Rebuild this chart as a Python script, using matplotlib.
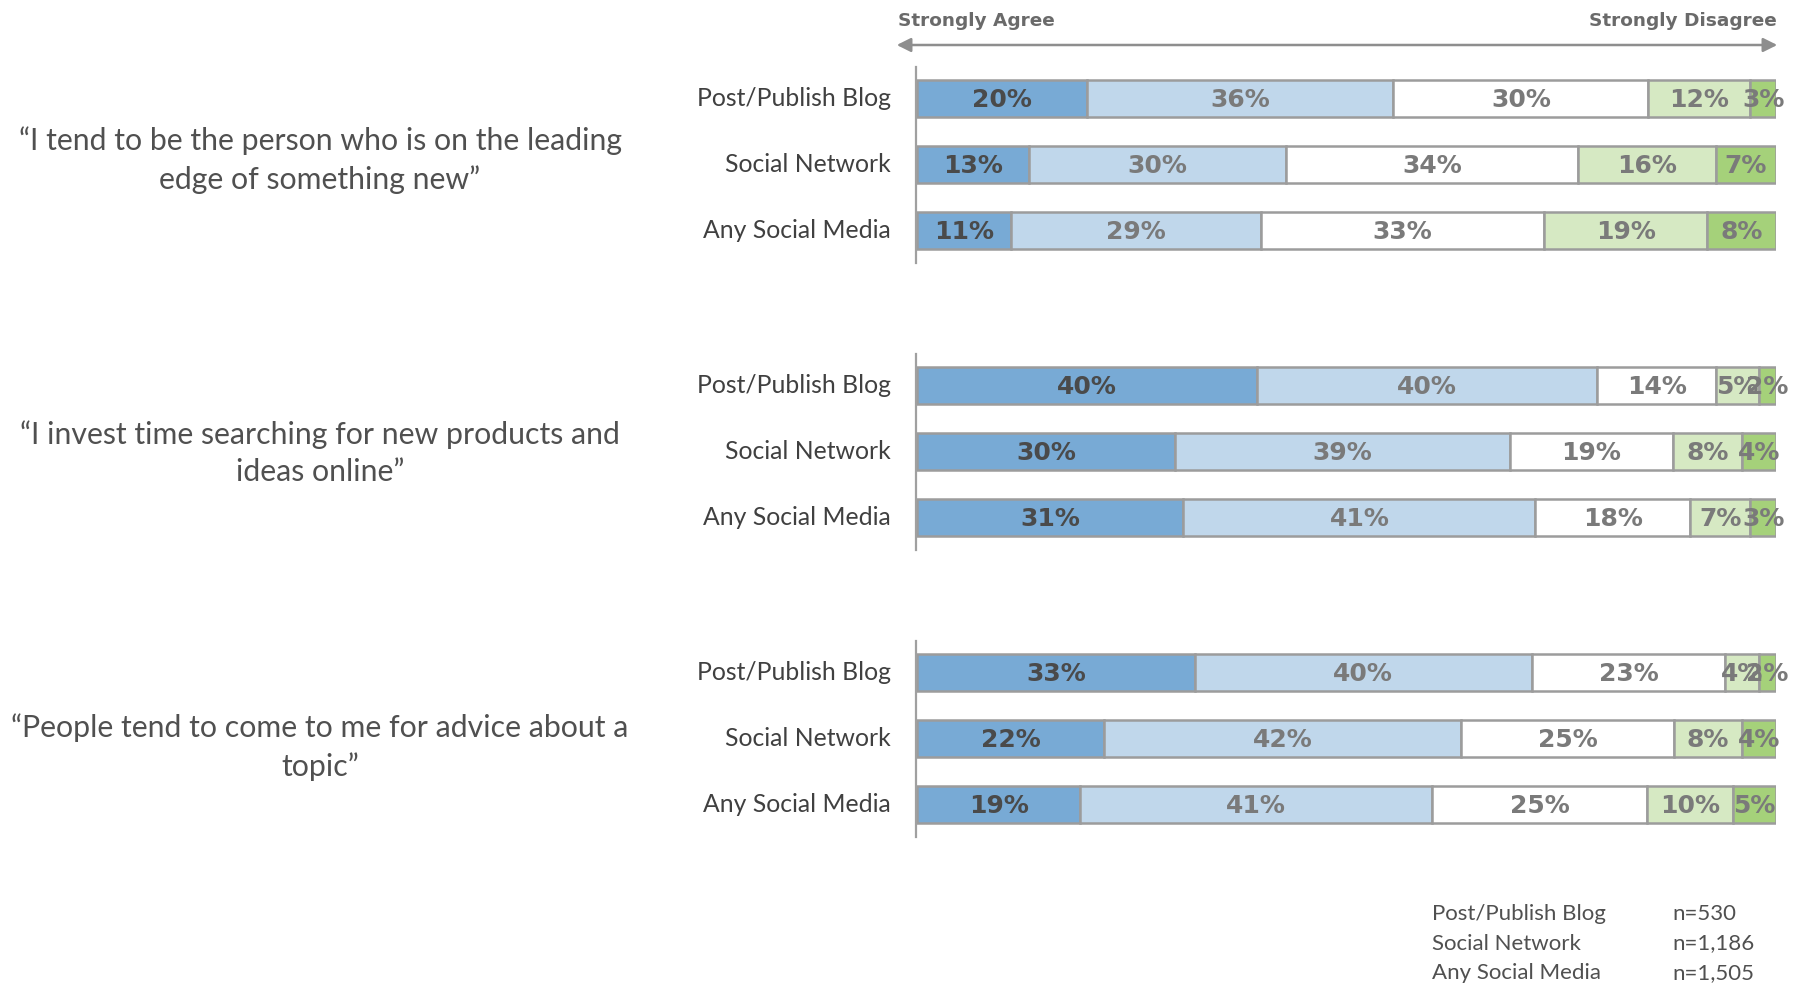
import numpy as np
import matplotlib
matplotlib.use('Agg')
import matplotlib.pyplot as plt

# survey answers per statement, Strongly Agree -> Strongly Disagree
statements = [
    '\u201cI tend to be the person who is on the leading\nedge of something new\u201d',
    '\u201cI invest time searching for new products and\nideas online\u201d',
    '\u201cPeople tend to come to me for advice about a\ntopic\u201d',
]
groups = ['Post/Publish Blog', 'Social Network', 'Any Social Media']
sample_sizes = ['n=530', 'n=1,186', 'n=1,505']

leading_edge = [[20, 36, 30, 12, 3], [13, 30, 34, 16, 7], [11, 29, 33, 19, 8]]
search_online = [[40, 40, 14, 5, 2], [30, 39, 19, 8, 4], [31, 41, 18, 7, 3]]
advice = [[33, 40, 23, 4, 2], [22, 42, 25, 8, 4], [19, 41, 25, 10, 5]]
answers = [leading_edge, search_online, advice]

colors = ['#78aad5', '#c0d7eb', '#ffffff', '#d6e9c3', '#a5d17a']
label_colors = ['#4a4a4a', '#7a7a7a', '#7a7a7a', '#7a7a7a', '#7a7a7a']

W, H = 1801, 983
fig = plt.figure(figsize=(W / 100, H / 100), dpi=100)


def fx(x):
    return x / W


def fy(y):
    return 1 - y / H


# bar area in pixels
x0, x1 = 917, 1776
ax = fig.add_axes([fx(x0), 0, fx(x1 - x0), 1])
ax.set_xlim(0, 100)
ax.set_ylim(H, 0)
ax.axis('off')

first_row = 98.5
row_gap = 66
group_gap = 287
bar_h = 37
quote_y = [160, 453, 747]

for g, rows in enumerate(answers):
    ys = [first_row + g * group_gap + r * row_gap for r in range(len(rows))]
    for r, vals in enumerate(rows):
        vals = np.array(vals, dtype=float)
        widths = vals / vals.sum() * 100
        lefts = np.concatenate([[0], np.cumsum(widths)[:-1]])
        ax.barh(ys[r], widths, left=lefts, height=bar_h, color=colors,
                edgecolor='#9c9c9c', linewidth=1.8, zorder=2)
        for k, v in enumerate(vals):
            ax.text(lefts[k] + widths[k] / 2, ys[r] + 1.5, '%d%%' % v,
                    ha='center', va='center', fontsize=18, fontweight='bold',
                    color=label_colors[k], family='DejaVu Sans', zorder=3)
        fig.text(fx(891), fy(ys[r]), groups[r], ha='right', va='center',
                 fontsize=17.8, color='#404040', family='Lato')
    # vertical baseline for each group
    ax.plot([-0.1, -0.1], [ys[0] - bar_h / 2 - 13, ys[-1] + bar_h / 2 + 14],
            color='#a0a0a0', lw=1.6, zorder=1, clip_on=False)
    fig.text(fx(320), fy(quote_y[g]), statements[g], ha='center', va='center',
             multialignment='center', fontsize=21.8, color='#505050',
             family='Lato', linespacing=1.42)

# scale arrow at the top
fig.add_artist(matplotlib.patches.FancyArrowPatch(
    (fx(894), fy(45)), (fx(1780), fy(45)), transform=fig.transFigure,
    arrowstyle='<|-|>', mutation_scale=21, color='#8e8e8e', lw=1.8))
fig.text(fx(898), fy(21), 'Strongly Agree', ha='left', va='center',
         fontsize=13.3, fontweight='bold', color='#6a6a6a', family='DejaVu Sans')
fig.text(fx(1777), fy(21), 'Strongly Disagree', ha='right', va='center',
         fontsize=13.3, fontweight='bold', color='#6a6a6a', family='DejaVu Sans')

# sample sizes
for i, (name, n) in enumerate(zip(groups, sample_sizes)):
    y = 914 + i * 29.5
    fig.text(fx(1432), fy(y), name, ha='left', va='center', fontsize=16,
             color='#505050', family='Lato')
    fig.text(fx(1672), fy(y), n, ha='left', va='center', fontsize=16,
             color='#505050', family='Lato')

fig.savefig('out.png', dpi=100, facecolor='white')
